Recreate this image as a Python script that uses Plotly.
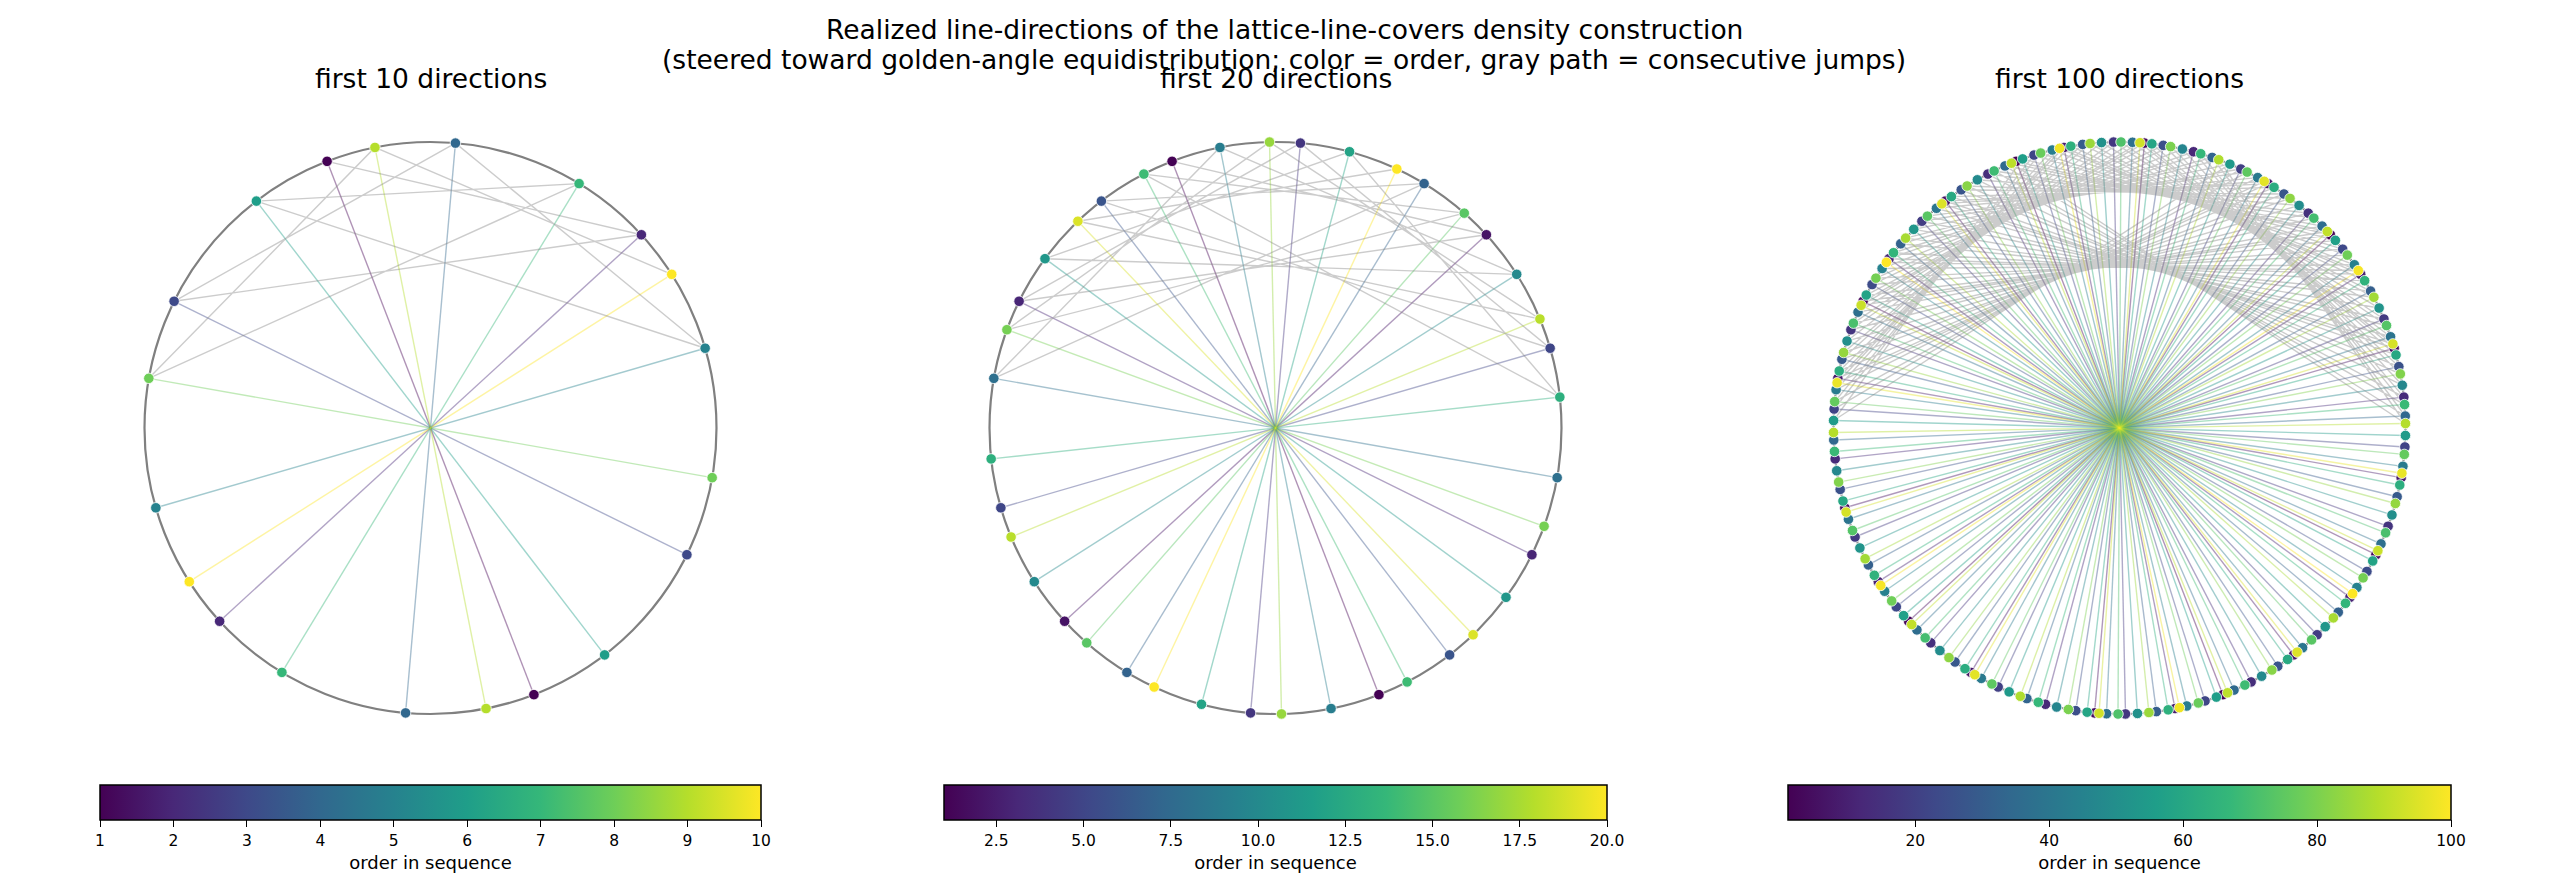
import numpy as np
import plotly.graph_objects as go
from plotly.colors import sample_colorscale

# realized line directions (degrees in [0, 180)), in sequence order
directions_deg = [
    111.2, 42.5, 153.7, 85.0, 16.2, 127.5, 58.7, 170.0, 101.2, 32.5,
    143.7, 75.0, 6.2, 117.4, 48.7, 159.9, 91.2, 22.4, 133.7, 64.9,
    176.2, 107.4, 38.7, 149.9, 81.2, 12.4, 123.6, 54.9, 166.1, 97.4,
    28.6, 139.9, 71.1, 2.4, 113.6, 44.9, 156.1, 87.4, 18.6, 129.8,
    61.1, 172.3, 103.6, 34.8, 146.1, 77.3, 8.6, 119.8, 51.1, 162.3,
    93.6, 24.8, 136.0, 67.3, 178.5, 109.8, 41.0, 152.3, 83.5, 14.8,
    126.0, 57.3, 168.5, 99.8, 31.0, 142.2, 73.5, 4.7, 116.0, 47.2,
    158.5, 89.7, 21.0, 132.2, 63.5, 174.7, 106.0, 37.2, 148.4, 79.7,
    10.9, 122.2, 53.4, 164.7, 95.9, 27.2, 138.4, 69.7, 0.9, 112.2,
    43.4, 154.6, 85.9, 17.1, 128.4, 59.6, 170.9, 102.1, 33.4, 144.6,
]

panel_sizes = [10, 20, 100]
panel_titles = ["first 10 directions", "first 20 directions", "first 100 directions"]

cbar_tickvals = [
    [1, 2, 3, 4, 5, 6, 7, 8, 9, 10],
    [2.5, 5.0, 7.5, 10.0, 12.5, 15.0, 17.5, 20.0],
    [20, 40, 60, 80, 100],
]
cbar_ticktext = [
    ["1", "2", "3", "4", "5", "6", "7", "8", "9", "10"],
    ["2.5", "5.0", "7.5", "10.0", "12.5", "15.0", "17.5", "20.0"],
    ["20", "40", "60", "80", "100"],
]

W, H = 2560, 896
OFF = 8  # page body margin shifts the figure; compensate
# pixel layout of each panel (left, right) and common vertical band
panel_px = [(100 - OFF, 761 - OFF), (944 - OFF, 1607 - OFF), (1788 - OFF, 2451 - OFF)]
px_per_unit = 286
ax_top, ax_bot = 114 - OFF, 742 - OFF

fig = go.Figure()

for i, n in enumerate(panel_sizes):
    k = i + 1
    sfx = "" if k == 1 else str(k)
    xa, ya = "x" + sfx, "y" + sfx
    th = np.radians(directions_deg[:n])
    order = np.arange(1, n + 1)
    cols = sample_colorscale("Viridis", list((order - 1) / (n - 1)))
    cx, cy = np.cos(th), np.sin(th)

    # diameters, colored by order
    for j in range(n):
        fig.add_trace(go.Scatter(
            x=[cx[j], -cx[j]], y=[cy[j], -cy[j]], mode="lines",
            line=dict(color=cols[j], width=1.4), opacity=0.42,
            hoverinfo="skip", showlegend=False, xaxis=xa, yaxis=ya))

    # gray path of consecutive jumps
    fig.add_trace(go.Scatter(
        x=cx, y=cy, mode="lines",
        line=dict(color="rgba(128,128,128,0.4)", width=1.4),
        hoverinfo="skip", showlegend=False, xaxis=xa, yaxis=ya))

    # endpoints
    px = np.empty(2 * n)
    py = np.empty(2 * n)
    pc = np.empty(2 * n)
    px[0::2], px[1::2] = cx, -cx
    py[0::2], py[1::2] = cy, -cy
    pc[0::2], pc[1::2] = order, order
    fig.add_trace(go.Scatter(
        x=px, y=py, mode="markers",
        marker=dict(color=pc, coloraxis="coloraxis" + sfx, size=10.5,
                    line=dict(color="white", width=0.8)),
        showlegend=False, xaxis=xa, yaxis=ya))

    fig.add_shape(type="circle", xref=xa, yref=ya, x0=-1, y0=-1, x1=1, y1=1,
                  line=dict(color="gray", width=2.2), layer="below")

    left, right = panel_px[i]
    half_w = (right - left) / 2 / px_per_unit
    half_h = (ax_bot - ax_top) / 2 / px_per_unit
    fig.layout["xaxis" + sfx] = dict(domain=[left / W, right / W], range=[-half_w, half_w],
                                     visible=False, anchor=ya)
    fig.layout["yaxis" + sfx] = dict(domain=[1 - ax_bot / H, 1 - ax_top / H], range=[-half_h, half_h],
                                     visible=False, anchor=xa)

    fig.layout["coloraxis" + sfx] = dict(
        colorscale="Viridis", cmin=1, cmax=n,
        colorbar=dict(
            orientation="h", x=(left + right) / 2 / W, xanchor="center",
            y=1 - (785 - OFF) / H, yanchor="top", len=right - left, lenmode="pixels",
            thickness=35, thicknessmode="pixels", xpad=0, ypad=0,
            outlinewidth=1.5, outlinecolor="black",
            ticks="outside", ticklen=7, tickwidth=1.3, tickcolor="black",
            tickvals=cbar_tickvals[i], ticktext=cbar_ticktext[i],
            tickfont=dict(size=15.5, color="black"),
            title=dict(text="order in sequence", side="bottom",
                       font=dict(size=18, color="black")),
        ),
    )

    fig.add_annotation(text=panel_titles[i], xref="paper", yref="paper",
                       x=(left + right) / 2 / W, y=1 - (78 - OFF) / H, xanchor="center", yanchor="middle",
                       showarrow=False, font=dict(size=26.5, color="black"))

fig.add_annotation(text="Realized line-directions of the lattice-line-covers density construction",
                   xref="paper", yref="paper", x=(1284 - OFF) / W, y=1 - (29 - OFF) / H,
                   xanchor="center", yanchor="middle", showarrow=False,
                   font=dict(size=26.5, color="black"))
fig.add_annotation(text="(steered toward golden-angle equidistribution; color = order, gray path = consecutive jumps)",
                   xref="paper", yref="paper", x=(1284 - OFF) / W, y=1 - (59 - OFF) / H,
                   xanchor="center", yanchor="middle", showarrow=False,
                   font=dict(size=26.5, color="black"))

fig.update_layout(
    width=W, height=H,
    margin=dict(l=0, r=0, t=0, b=0),
    paper_bgcolor="white", plot_bgcolor="white",
    font=dict(family="DejaVu Sans", color="black"),
)

fig.write_html("out.html")
